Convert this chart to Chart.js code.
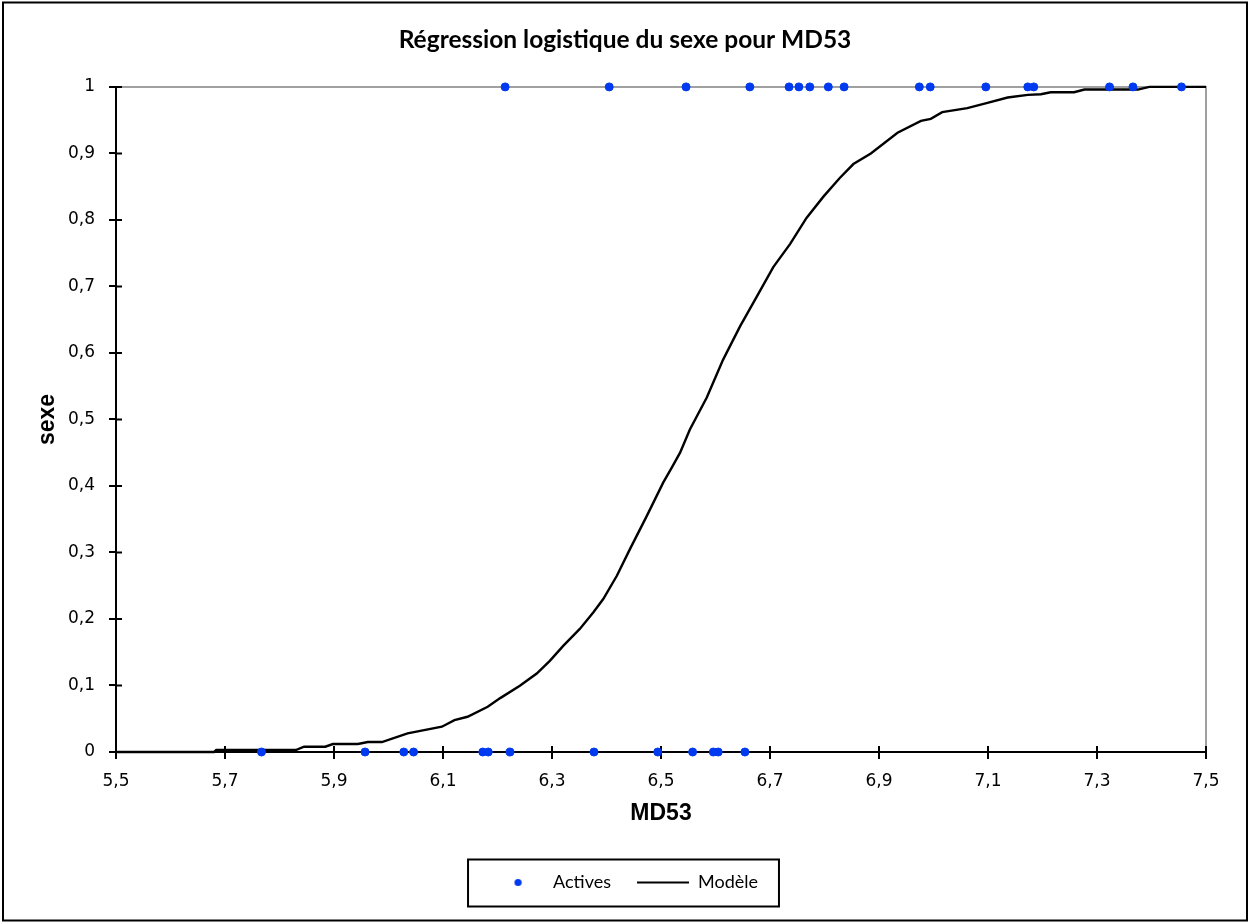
<!DOCTYPE html>
<html>
<head>
<meta charset="utf-8">
<script src="https://cdn.jsdelivr.net/npm/chart.js@4.4.0/dist/chart.umd.min.js"></script>
<style>
  html, body { margin: 0; padding: 0; background: #fff; }
</style>
</head>
<body>
<canvas id="myChart" width="1250" height="923"></canvas>
<script>
// tick values
const xTicks = [5.5, 5.7, 5.9, 6.1, 6.3, 6.5, 6.7, 6.9, 7.1, 7.3, 7.5];
const yTicks = [0, 0.1, 0.2, 0.3, 0.4, 0.5, 0.6, 0.7, 0.8, 0.9, 1];

// observations (MD53) by sexe
const activesSexe0 = [5.767, 5.957, 6.028, 6.046, 6.173, 6.183, 6.223, 6.377, 6.494, 6.558, 6.596, 6.605, 6.654];
const activesSexe1 = [6.214, 6.405, 6.546, 6.663, 6.735, 6.753, 6.773, 6.807, 6.836, 6.974, 6.994, 7.096, 7.173, 7.184, 7.323, 7.366, 7.455];

// fitted model curve
const modeleX = [5.5, 5.68, 5.684, 5.83, 5.845, 5.884, 5.898, 5.944, 5.962, 5.988, 6.035, 6.098, 6.121, 6.145,
  6.182, 6.205, 6.241, 6.272, 6.296, 6.321, 6.351, 6.376, 6.394, 6.419, 6.443, 6.474, 6.504, 6.52, 6.535,
  6.553, 6.584, 6.614, 6.645, 6.676, 6.706, 6.737, 6.767, 6.798, 6.828, 6.853, 6.885, 6.934, 6.977, 6.995,
  7.016, 7.062, 7.099, 7.136, 7.173, 7.197, 7.215, 7.258, 7.277, 7.375, 7.396, 7.5];
const modeleY = [0, 0, 0.003, 0.003, 0.008, 0.008, 0.012, 0.012, 0.015, 0.015, 0.028, 0.038, 0.048, 0.053,
  0.068, 0.081, 0.0995, 0.118, 0.137, 0.16, 0.185, 0.21, 0.23, 0.265, 0.305, 0.355, 0.405, 0.428, 0.45,
  0.485, 0.533, 0.59, 0.64, 0.685, 0.729, 0.764, 0.803, 0.835, 0.863, 0.884, 0.9, 0.931, 0.949, 0.952,
  0.962, 0.968, 0.976, 0.984, 0.988, 0.989, 0.992, 0.992, 0.996, 0.996, 1, 1];

const BLUE = 'rgb(0, 58, 240)';
const comma = v => String(v).replace('.', ',');

const activesData = activesSexe0.map(x => ({ x: x, y: 0 }))
  .concat(activesSexe1.map(x => ({ x: x, y: 1 })));
const modeleData = modeleX.map((x, i) => ({ x: x, y: modeleY[i] }));

// small dot used in the legend
const dot = document.createElement('canvas');
dot.width = 9; dot.height = 9;
const dctx = dot.getContext('2d');
dctx.fillStyle = BLUE;
dctx.beginPath(); dctx.arc(4.5, 4.5, 3.6, 0, Math.PI * 2); dctx.fill();

const framePlugin = {
  id: 'frame',
  beforeDraw(chart) {
    const ctx = chart.ctx;
    ctx.save();
    ctx.fillStyle = '#fff';
    ctx.fillRect(0, 0, chart.width, chart.height);
    ctx.restore();
  },
  beforeDatasetsDraw(chart) {
    const { ctx, chartArea: a, scales } = chart;
    ctx.save();
    ctx.strokeStyle = '#a0a0a0';
    ctx.lineWidth = 2;
    ctx.beginPath();
    ctx.moveTo(a.left, a.top);
    ctx.lineTo(a.right, a.top);
    ctx.lineTo(a.right, a.bottom);
    ctx.stroke();
    // inner half of the crossing ticks
    ctx.strokeStyle = '#000';
    ctx.beginPath();
    xTicks.forEach(v => {
      const px = scales.x.getPixelForValue(v);
      ctx.moveTo(px, a.bottom);
      ctx.lineTo(px, a.bottom - 6);
    });
    yTicks.forEach(v => {
      const py = scales.y.getPixelForValue(v);
      ctx.moveTo(a.left, py);
      ctx.lineTo(a.left + 6, py);
    });
    ctx.stroke();
    ctx.restore();
  },
  afterDraw(chart) {
    const ctx = chart.ctx;
    ctx.save();
    ctx.strokeStyle = '#000';
    ctx.lineWidth = 2;
    ctx.strokeRect(3, 2.5, chart.width - 6, chart.height - 5);
    const hb = chart.legend.legendHitBoxes;
    if (hb && hb.length) {
      const last = hb[hb.length - 1];
      const l = hb[0].left - 24;
      const r = last.left + last.width + 21;
      const cy = hb[0].top + hb[0].height / 2;
      ctx.strokeRect(l, cy - 23, r - l, 47);
    }
    ctx.restore();
  }
};

const ctx = document.getElementById('myChart').getContext('2d');
const myChart = new Chart(ctx, {
  type: 'scatter',
  data: {
    datasets: [
      {
        label: 'Actives',
        data: activesData,
        backgroundColor: BLUE,
        borderColor: BLUE,
        pointRadius: 4,
        pointHoverRadius: 4,
        clip: false
      },
      {
        type: 'line',
        label: 'Modèle',
        data: modeleData,
        borderColor: '#000',
        borderWidth: 2.4,
        tension: 0,
        fill: false,
        pointRadius: 0,
        pointStyle: 'line',
        pointBorderColor: '#000',
        pointBorderWidth: 2,
        clip: false
      }
    ]
  },
  options: {
    responsive: false,
    animation: false,
    layout: { padding: { top: 0, left: 0, right: 0, bottom: 21.5 } },
    plugins: {
      title: {
        display: true,
        text: 'Régression logistique du sexe pour MD53',
        color: '#000',
        font: { family: 'Lato', size: 24.5, weight: 'bold', lineHeight: 1.2 },
        padding: { top: 25.5, bottom: 32 }
      },
      legend: {
        position: 'bottom',
        labels: {
          usePointStyle: true,
          pointStyleWidth: 52,
          padding: 26,
          color: '#000',
          font: { family: 'Lato', size: 18 },
          generateLabels(chart) {
            const items = Chart.defaults.plugins.legend.labels.generateLabels(chart);
            items[0].pointStyle = dot;
            return items;
          }
        }
      },
      tooltip: { enabled: false }
    },
    scales: {
      x: {
        type: 'linear',
        position: 'bottom',
        min: 5.5,
        max: 7.5,
        afterBuildTicks: s => { s.ticks = xTicks.map(v => ({ value: v })); },
        afterFit: s => { s.height = 95.5; },
        border: { display: true, color: '#000', width: 2 },
        grid: { display: true, drawOnChartArea: false, drawTicks: true, tickLength: 7, color: '#000', lineWidth: 2 },
        ticks: { padding: 12, autoSkip: false, maxRotation: 0, color: '#000', font: { family: 'DejaVu Sans', size: 17 }, callback: comma },
        title: { display: true, text: 'MD53', color: '#000', font: { family: 'Liberation Sans', size: 23, weight: 'bold', lineHeight: 1.2 }, padding: { top: 0, bottom: 19.7 } }
      },
      y: {
        type: 'linear',
        position: 'left',
        min: 0,
        max: 1,
        afterBuildTicks: s => { s.ticks = yTicks.map(v => ({ value: v })); },
        afterFit: s => { s.width = 116; },
        border: { display: true, color: '#000', width: 2 },
        grid: { display: true, drawOnChartArea: false, drawTicks: true, tickLength: 7, color: '#000', lineWidth: 2 },
        ticks: { padding: 14, color: '#000', font: { family: 'DejaVu Sans', size: 17 }, callback: comma },
        title: { display: true, text: 'sexe', color: '#000', font: { family: 'Liberation Sans', size: 23, weight: 'bold', lineHeight: 1.2 }, padding: { top: 34, bottom: 0 } }
      },
      y2: {
        position: 'right',
        display: true,
        afterFit: s => { s.width = 44; },
        grid: { display: false },
        border: { display: false },
        ticks: { display: false }
      }
    }
  },
  plugins: [framePlugin]
});
</script>
</body>
</html>
